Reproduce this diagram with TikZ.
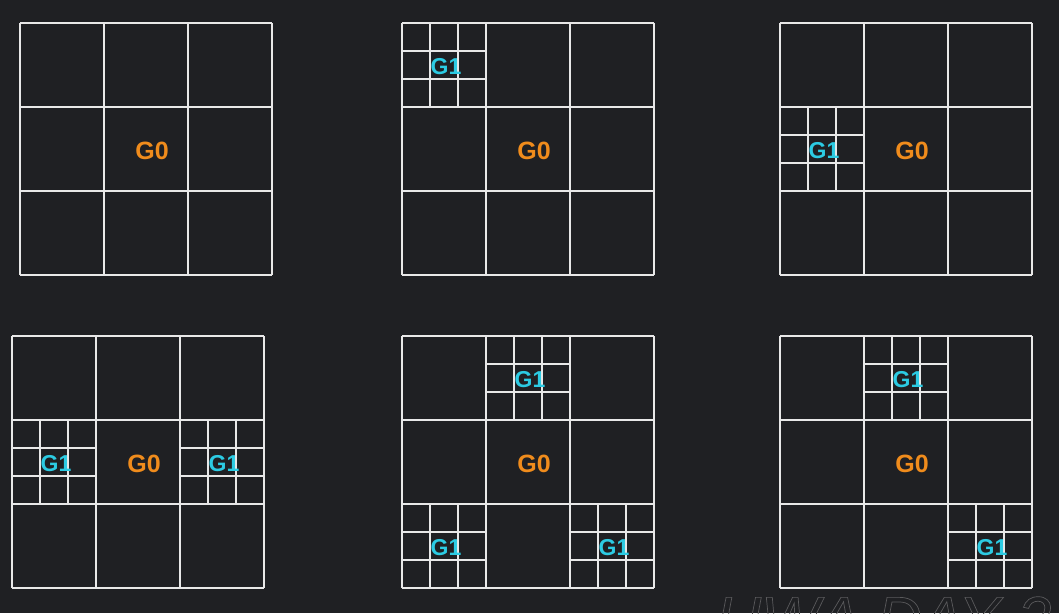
\documentclass[tikz,border=0pt]{standalone}
\usepackage{fontspec}
\setmainfont{Liberation Sans}
\definecolor{bg}{HTML}{1F2023}
\definecolor{gline}{HTML}{E8E8E8}
\definecolor{gzero}{HTML}{F08C1C}
\definecolor{gone}{HTML}{2CCBE3}
\definecolor{wm}{HTML}{5A5A5C}
\tikzset{
  gridline/.style={draw=gline, line width=2pt},
  gzerolabel/.style={text=gzero, font=\bfseries\fontsize{25}{25}\selectfont, inner sep=0pt},
  gonelabel/.style={text=gone, font=\bfseries\fontsize{23}{23}\selectfont, inner sep=0pt},
}
\newcommand\gridG[3]{%
  \draw[gridline, shift={(#1,#2)}, xstep=84pt, ystep=84pt] (0,0) grid (252,252);
  \node[gzerolabel] (#3) at (#1+132,#2+128) {G0};
}
\newcommand\subG[3]{%
  \draw[gridline, shift={(#1,#2)}, xstep=28pt, ystep=28pt] (0,0) grid (84,84);
  \node[gonelabel] (#3) at (#1+44,#2+44) {G1};
}
\begin{document}
\begin{tikzpicture}[x=1pt,y=-1pt]
\useasboundingbox (0,0) rectangle (1059,613);
\fill[bg] (0,0) rectangle (1059,613);
% watermark
\begin{scope}
\clip (0,0) rectangle (1059,613);
\node[anchor=base west, text=wm, inner sep=0pt, font=\itshape\fontsize{62}{62}\selectfont] (wmark) at (716,640) {\special{pdf:literal direct 1 Tr 0.7 w}UWA DAY 2\special{pdf:literal direct 0 Tr}};
\end{scope}
% row 1
\gridG{20}{23}{a0}
\gridG{402}{23}{b0}
\subG{402}{23}{b1}
\gridG{780}{23}{c0}
\subG{780}{107}{c1}
% row 2
\gridG{12}{336}{d0}
\subG{12}{420}{d1}
\subG{180}{420}{d2}
\gridG{402}{336}{e0}
\subG{486}{336}{e1}
\subG{402}{504}{e2}
\subG{570}{504}{e3}
\gridG{780}{336}{f0}
\subG{864}{336}{f1}
\subG{948}{504}{f2}
\end{tikzpicture}
\end{document}
